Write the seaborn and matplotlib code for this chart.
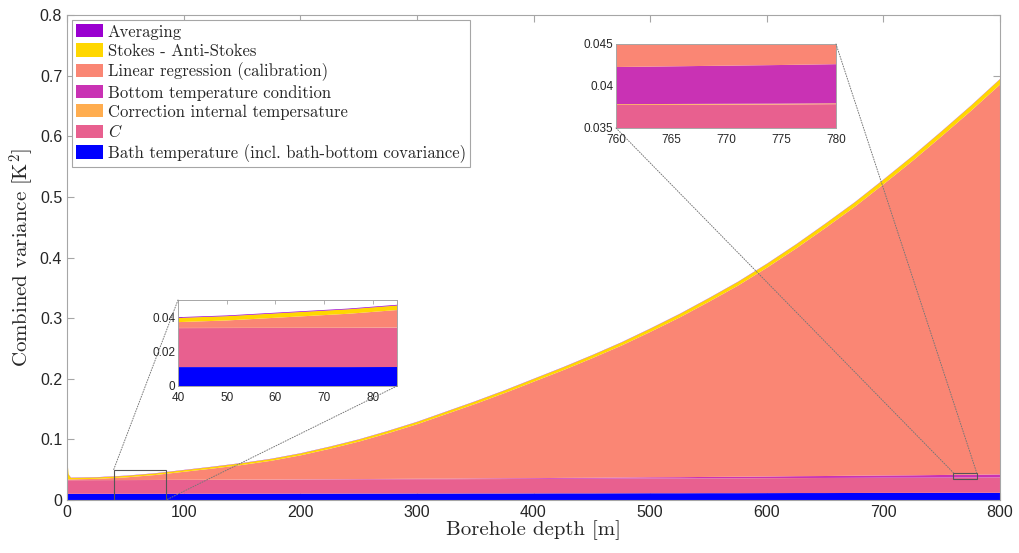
import numpy as np
import matplotlib
matplotlib.use("Agg")
import matplotlib.pyplot as plt
from matplotlib.patches import Rectangle, ConnectionPatch
import seaborn as sns

# ---- data (variance contributions, K^2) ----
depth = [0, 1, 3, 25, 50, 75, 100, 125, 150, 175, 200, 225, 250, 275, 300,
         325, 350, 375, 400, 425, 450, 475, 500, 525, 550, 575, 600, 625,
         650, 675, 700, 725, 750, 775, 800]

bath = [0.0110, 0.0110, 0.0110, 0.0110, 0.0110, 0.0110, 0.0111, 0.0111, 0.0112,
        0.0112, 0.0113, 0.0113, 0.0114, 0.0114, 0.0115, 0.0115, 0.0116, 0.0116,
        0.0117, 0.0118, 0.0118, 0.0119, 0.0120, 0.0120, 0.0121, 0.0121, 0.0122,
        0.0123, 0.0123, 0.0124, 0.0125, 0.0125, 0.0126, 0.0126, 0.0127]

c_term = [0.0225, 0.0225, 0.0225, 0.0226, 0.0227, 0.0228, 0.0229, 0.0229, 0.0230,
          0.0231, 0.0232, 0.0233, 0.0234, 0.0235, 0.0236, 0.0236, 0.0237, 0.0238,
          0.0239, 0.0240, 0.0241, 0.0242, 0.0243, 0.0243, 0.0244, 0.0245, 0.0246,
          0.0247, 0.0248, 0.0249, 0.0250, 0.0250, 0.0251, 0.0252, 0.0253]

corr_internal = [0.0001] * len(depth)

bottom = [0.0, 0.0, 0.0, 0.0, 0.0, 0.0, 0.0001, 0.0001, 0.0002, 0.0002, 0.0003,
          0.0004, 0.0005, 0.0006, 0.0007, 0.0008, 0.0009, 0.0011, 0.0012, 0.0014,
          0.0015, 0.0017, 0.0019, 0.0021, 0.0023, 0.0025, 0.0027, 0.0030, 0.0032,
          0.0035, 0.0037, 0.0040, 0.0043, 0.0046, 0.0049]

linreg = [0.0011, 0.0012, 0.0013, 0.0020, 0.0043, 0.0081, 0.0132, 0.0186, 0.0242,
          0.0310, 0.0396, 0.0502, 0.0618, 0.0754, 0.0900, 0.1067, 0.1232, 0.1407,
          0.1592, 0.1776, 0.1972, 0.2176, 0.2400, 0.2635, 0.2889, 0.3153, 0.3447,
          0.3759, 0.4093, 0.4435, 0.4808, 0.5192, 0.5594, 0.6007, 0.6438]

stokes = [0.028, 0.008, 0.0024, 0.0024, 0.0025, 0.0026, 0.0027, 0.0028, 0.0029,
          0.0030, 0.0031, 0.0033, 0.0034, 0.0036, 0.0037, 0.0039, 0.0041, 0.0043,
          0.0045, 0.0047, 0.0049, 0.0051, 0.0053, 0.0056, 0.0058, 0.0061, 0.0063,
          0.0066, 0.0069, 0.0072, 0.0075, 0.0078, 0.0081, 0.0084, 0.0088]

averaging = [0.0004] * len(depth)

labels = ["Bath temperature (incl. bath-bottom covariance)", r"$C$",
          "Correction internal tempersature", "Bottom temperature condition",
          "Linear regression (calibration)", "Stokes - Anti-Stokes", "Averaging"]
colors = sns.color_palette(["#0000FF", "#E8608F", "#FFAD4F", "#C932B4",
                            "#FA8674", "#FFD700", "#9A00D0"])
series = [bath, c_term, corr_internal, bottom, linreg, stokes, averaging]

zoom1 = (40, 85, 0, 0.05)
zoom2 = (760, 780, 0.035, 0.045)

# ---- style ----
sns.set_style("ticks")
plt.rcParams["font.family"] = ["Liberation Sans", "DejaVu Sans"]
plt.rcParams["mathtext.fontset"] = "cm"
plt.rcParams["xtick.direction"] = "in"
plt.rcParams["ytick.direction"] = "in"
grey = "#a6a6a6"
txt = "#262626"

fig = plt.figure(figsize=(10.19, 5.53), dpi=100)
ax = fig.add_axes([67 / 1019, 53 / 553, 933 / 1019, 485 / 553])

polys = ax.stackplot(depth, *series, colors=colors, labels=labels, linewidth=0)
ax.set_xlim(0, 800)
ax.set_ylim(0, 0.8)
ax.set_xticks(range(0, 801, 100))
ax.set_yticks(np.arange(0, 0.81, 0.1))
ax.yaxis.set_major_formatter(lambda v, p: f"{v:g}")
ax.tick_params(labelsize=11.5, colors=grey, labelcolor=txt, length=5, width=0.8,
               top=True, right=True)
for s in ax.spines.values():
    s.set_color(grey)
    s.set_linewidth(0.8)

ax.set_xlabel("Borehole depth [m]", family="cmr10", fontsize=15, color=txt, labelpad=0)
ax.set_ylabel(r"Combined variance [K$^2$]", family="cmr10", fontsize=15, color=txt,
              labelpad=3)

leg = ax.legend(polys[::-1], labels[::-1], loc="upper left",
                prop={"family": "cmr10", "size": 12.0},
                frameon=True, fancybox=False, framealpha=1, edgecolor=grey,
                handlelength=1.6, handleheight=0.85, handletextpad=0.3,
                labelspacing=0.22, borderpad=0.25, borderaxespad=0.3)
leg.get_frame().set_linewidth(0.8)

# ---- insets ----
def make_inset(rect, lims, xt, yt):
    ins = fig.add_axes(rect)
    ins.stackplot(depth, *series, colors=colors, linewidth=0)
    ins.set_xlim(lims[0], lims[1])
    ins.set_ylim(lims[2], lims[3])
    ins.set_xticks(xt)
    ins.set_yticks(yt)
    ins.yaxis.set_major_formatter(lambda v, p: f"{v:g}")
    ins.tick_params(labelsize=8.5, colors=grey, labelcolor=txt, length=3, width=0.6,
                    top=True, right=True)
    ins.tick_params(axis="x", pad=4)
    ins.tick_params(axis="y", pad=2)
    for s in ins.spines.values():
        s.set_color(grey)
        s.set_linewidth(0.7)
    ax.add_patch(Rectangle((lims[0], lims[2]), lims[1] - lims[0], lims[3] - lims[2],
                           fill=False, edgecolor="#555555", linewidth=0.8, zorder=5))
    return ins

ins1 = make_inset([178 / 1019, 167 / 553, 219 / 1019, 86 / 553], zoom1,
                  [40, 50, 60, 70, 80], [0, 0.02, 0.04])
ins2 = make_inset([616 / 1019, 425 / 553, 220 / 1019, 84 / 553], zoom2,
                  [760, 765, 770, 775, 780], [0.035, 0.04, 0.045])

links = [(ins1, (0, 1), (zoom1[0], zoom1[3])),
         (ins1, (1, 0), (zoom1[1], zoom1[2])),
         (ins2, (0, 0), (zoom2[0], zoom2[3])),
         (ins2, (1, 1), (zoom2[1], zoom2[3]))]
for ins, pa, pb in links:
    cp = ConnectionPatch(xyA=pa, coordsA=ins.transAxes, xyB=pb, coordsB=ax.transData,
                         linestyle=":", color="#777777", linewidth=0.7, zorder=4)
    fig.add_artist(cp)

fig.savefig("out.png", dpi=100)
